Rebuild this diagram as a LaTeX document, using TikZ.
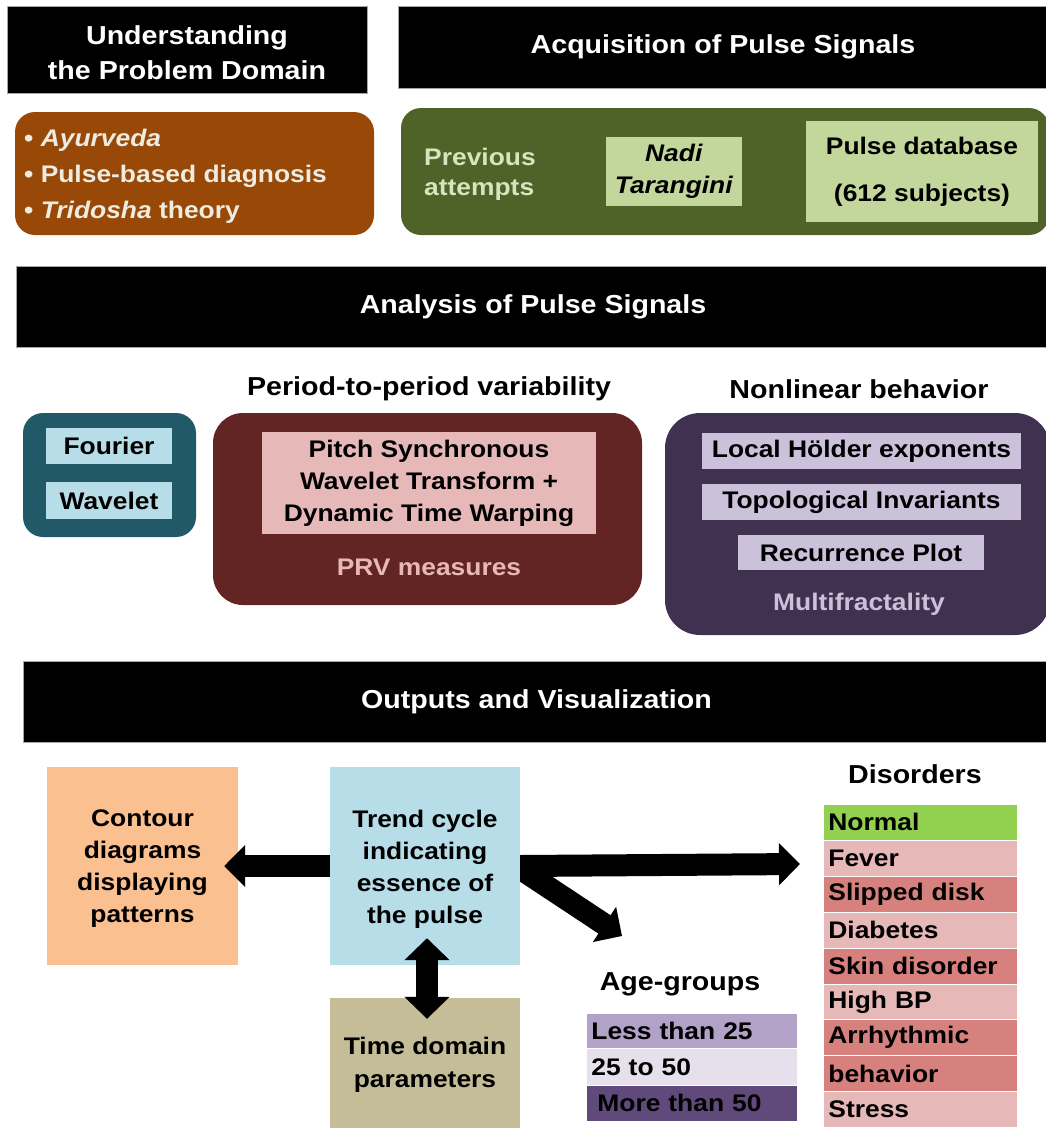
\documentclass[tikz,border=0pt]{standalone}
\usepackage{fontspec}
\setmainfont{Liberation Sans}[FakeStretch=1.1]
\usetikzlibrary{arrows.meta,calc}

\definecolor{ayurfill}{HTML}{984807}
\definecolor{cream}{HTML}{EEECE1}
\definecolor{olive}{HTML}{4F6228}
\definecolor{olivelight}{HTML}{C3D69B}
\definecolor{olivetext}{HTML}{D7E4BD}
\definecolor{teal}{HTML}{215968}
\definecolor{skyblue}{HTML}{B7DEE8}
\definecolor{maroon}{HTML}{632523}
\definecolor{rosepale}{HTML}{E6B9B8}
\definecolor{rosedark}{HTML}{D7817F}
\definecolor{plum}{HTML}{403151}
\definecolor{lilac}{HTML}{CCC1DA}
\definecolor{peach}{HTML}{FAC090}
\definecolor{khaki}{HTML}{C4BD97}
\definecolor{leaf}{HTML}{92D050}
\definecolor{ageA}{HTML}{B3A2C7}
\definecolor{ageB}{HTML}{E6E0EC}
\definecolor{ageC}{HTML}{604A7B}

\newcommand\HeadFont{\fontsize{26}{35}\selectfont\bfseries}
\newcommand\BodyFont{\fontsize{24}{32}\selectfont\bfseries}

\pgfdeclarelayer{bg}
\pgfsetlayers{bg,main}

\tikzset{
  header/.style={fill=black, draw=black!35, line width=0.8pt, text=white,
    font=\HeadFont, align=center, inner sep=0pt},
  panel/.style={rounded corners=#1, inner sep=0pt, draw=none},
  chip/.style={inner sep=0pt, draw=none, text=black, font=\BodyFont, align=center},
  label/.style={inner sep=0pt, font=\BodyFont, align=center},
  title/.style={inner sep=0pt, font=\HeadFont, align=center},
  listrow/.style={inner sep=0pt, inner xsep=5pt, draw=white, line width=0.8pt,
    text=black, font=\BodyFont, align=left, minimum height=#1},
  fatarrow/.style={line width=22pt,
    -{Triangle[length=21pt,width=41pt]}},
  fatdouble/.style={line width=22pt,
    {Triangle[length=22pt,width=44pt]}-{Triangle[length=22pt,width=44pt]}}
}

\begin{document}
\begin{tikzpicture}[x=1pt,y=-1pt]
\useasboundingbox (0,0) rectangle (1046,1128);

% ---- top row: problem domain and acquisition
\node[header, minimum width=360, minimum height=87] (hdrA) at (187,49.5) {};
\node[title, text=white] (hdrAtxt) at (187,52.5) {Understanding\\the Problem Domain};
\node[header, minimum width=650, minimum height=82] (hdrB) at (723,47)
  {Acquisition of Pulse Signals};

\node[panel=20pt, fill=ayurfill, minimum width=359, minimum height=123] (ayur) at (194.5,173.5) {};
\node[label, anchor=west, text=cream, align=left, font=\fontsize{24}{36}\selectfont\bfseries]
  (ayurtxt) at (24,176) {• \textit{Ayurveda}\\• Pulse-based diagnosis\\• \textit{Tridosha} theory};

\node[panel=20pt, fill=olive, minimum width=648, minimum height=127] (acq) at (725,171.5) {};
\node[label, anchor=west, text=olivetext, align=left, font=\fontsize{24}{30}\selectfont\bfseries]
  (prev) at (424,174) {Previous\\attempts};
\node[chip, fill=olivelight, minimum width=136, minimum height=69] (nadi) at (674,171.5)
  {\textit{Nadi}\\\textit{Tarangini}};
\node[chip, fill=olivelight, minimum width=232, minimum height=101,
  font=\fontsize{24}{47}\selectfont\bfseries] (pdb) at (922,171.5)
  {Pulse database\\(612 subjects)};

% ---- analysis
\node[header, minimum width=1034, minimum height=81] (hdrC) at (533,306.5)
  {Analysis of Pulse Signals};

\node[title] (pvar) at (429,389) {Period-to-period variability};
\node[title] (nlin) at (859,389) {Nonlinear behavior};

\node[panel=20pt, fill=teal, minimum width=173, minimum height=124] (spec) at (109.5,475) {};
\node[chip, fill=skyblue, minimum width=126, minimum height=36] (fourier) at (109,446) {Fourier};
\node[chip, fill=skyblue, minimum width=126, minimum height=37] (wavelet) at (109,500.5) {Wavelet};

\node[panel=30pt, fill=maroon, minimum width=429, minimum height=192] (prv) at (427.5,509) {};
\node[chip, fill=rosepale, minimum width=334, minimum height=102] (psw) at (429,483)
  {Pitch Synchronous\\Wavelet Transform +\\Dynamic Time Warping};
\node[label, text=rosepale] (prvtxt) at (429,567) {PRV measures};

\node[panel=35pt, fill=plum, minimum width=385, minimum height=222] (nonlin) at (857.5,524) {};
\node[chip, fill=lilac, minimum width=319, minimum height=36] (holder) at (861.5,451) {Local Hölder exponents};
\node[chip, fill=lilac, minimum width=319, minimum height=36] (topo) at (861.5,502) {Topological Invariants};
\node[chip, fill=lilac, minimum width=246, minimum height=35] (recur) at (861,552.5) {Recurrence Plot};
\node[label, text=lilac] (mfrac) at (859,604) {Multifractality};

% ---- outputs
\node[header, minimum width=1027, minimum height=81] (hdrD) at (536.5,701.5)
  {Outputs and Visualization};

\node[chip, fill=peach, minimum width=191, minimum height=198] (contour) at (142.5,866) {};
\node[label] (contourtxt) at (142.5,869) {Contour\\diagrams\\displaying\\patterns};
\node[chip, fill=skyblue, minimum width=190, minimum height=198] (trend) at (425,866) {};
\node[label] (trendtxt) at (425,869) {Trend cycle\\indicating\\essence of\\the pulse};
\node[chip, fill=khaki, minimum width=190, minimum height=134,
  font=\fontsize{24}{33}\selectfont\bfseries] (timed) at (425,1065)
  {Time domain\\parameters};

% age groups
\node[title] (agehead) at (680,984) {Age-groups};
\node[listrow=35, fill=ageA, text width=201, anchor=north west] (age1) at (586,1013) {Less than 25};
\node[listrow=37, fill=ageB, text width=201, anchor=north west] (age2) at (586,1048) {25 to 50};
\node[listrow=36, fill=ageC, text width=201, anchor=north west] (age3) at (586,1085) {\hspace*{6pt}More than 50};

% disorders
\node[title] (dishead) at (915,774) {Disorders};
\foreach \t/\c [count=\i] in {Normal/leaf, Fever/rosepale, Slipped disk/rosedark,
    Diabetes/rosepale, Skin disorder/rosedark, High BP/rosepale,
    Arrhythmic/rosedark, behavior/rosedark, Stress/rosepale}
  \node[listrow=35.9, fill=\c, text width=184, anchor=north west] (d\i)
    at (823,{804+35.9*(\i-1)}) {\t};

% ---- connectors
\coordinate (agetip) at (622,936);
\begin{pgfonlayer}{bg}
  \draw[fatarrow] (trend.east) -- ($(trend.east -| d1.west)+(-23,-2)$);
  \draw[fatarrow] ($(trend.east)+(-4,0)$) -- (agetip);
\end{pgfonlayer}
\draw[fatarrow] (trend.west) -- ($(contour.east)+(-14,0)$);
\draw[fatdouble] ($(trend.south)+(2,-27)$) -- ($(timed.north)+(2,21)$);

\end{tikzpicture}
\end{document}
